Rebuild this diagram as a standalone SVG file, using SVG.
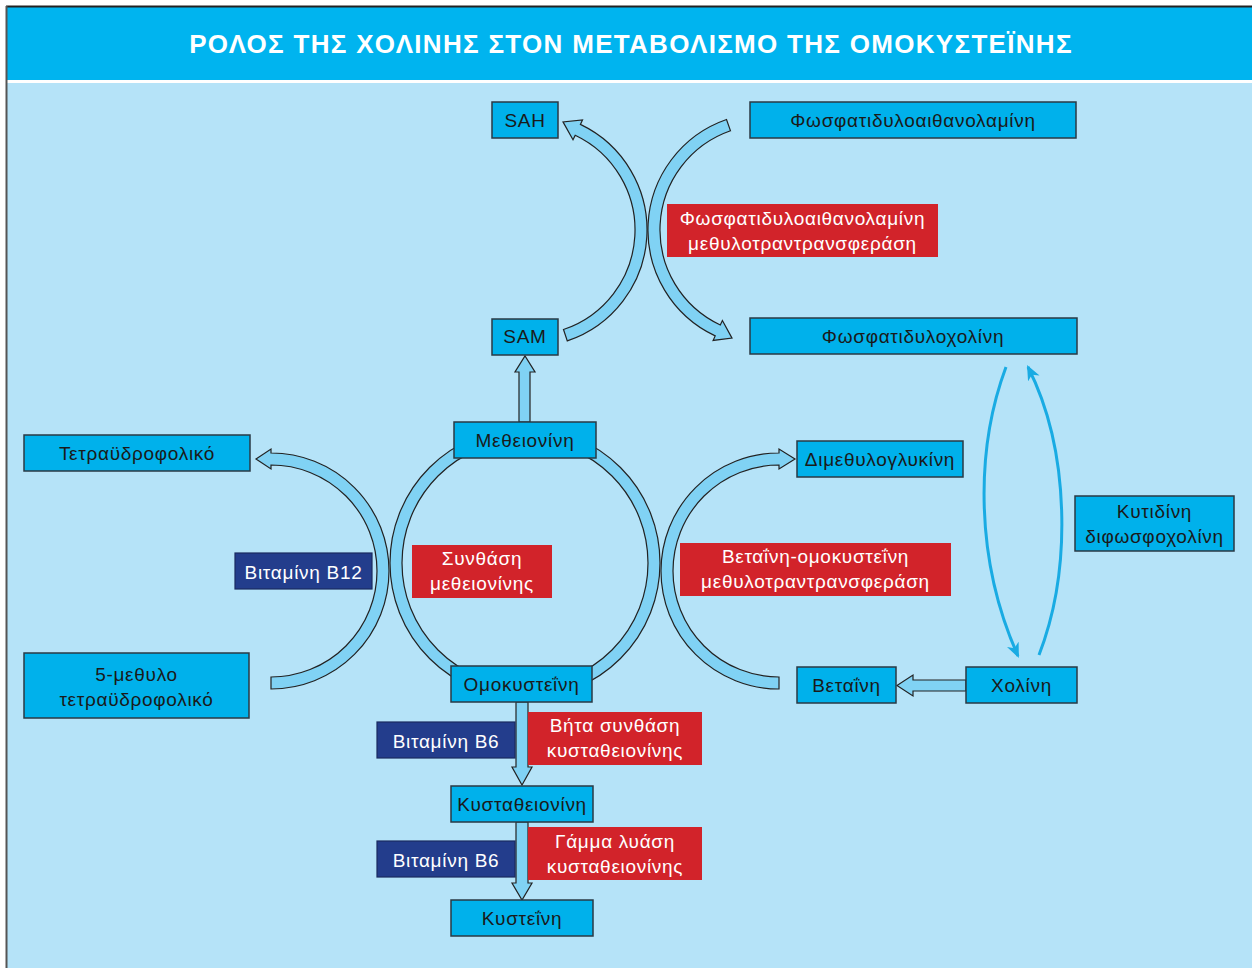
<svg xmlns="http://www.w3.org/2000/svg" width="1252" height="968" viewBox="0 0 1252 968">
  <defs>
    <style>
      .node rect { fill: #00b1eb; stroke: #2a3a44; stroke-width: 1.5; }
      .node text, .vit text, .enz text { font-family: "Liberation Sans", Arial, sans-serif; font-size: 19px; letter-spacing: 0.7px; text-anchor: middle; }
      .node text { fill: #1a1a1a; }
      .vit rect { fill: #233d8c; stroke: #1a2a60; stroke-width: 1.2; }
      .vit text { fill: #ffffff; }
      .enz rect { fill: #d2232a; }
      .enz text { fill: #ffffff; }
      .band { fill: #80d2f4; stroke: #222222; stroke-width: 1.2; stroke-linejoin: miter; }
      .thin { fill: none; stroke: #19abe3; stroke-width: 3; }
    </style>
    <marker id="tip" viewBox="0 0 14 12" refX="12" refY="6" markerWidth="15" markerHeight="13" markerUnits="userSpaceOnUse" orient="auto">
      <path d="M0,0 L14,6 L0,12 L4,6 Z" fill="#19abe3"/>
    </marker>
  </defs>

  <!-- frame and backgrounds -->
  <rect x="0" y="0" width="1252" height="968" fill="#ffffff"/>
  <rect x="7" y="83" width="1245" height="885" fill="#b5e3f8"/>
  <rect x="7" y="7" width="1245" height="73" fill="#00b4ef"/>
  <line x1="6" y1="6.5" x2="1252" y2="6.5" stroke="#222222" stroke-width="2"/>
  <line x1="6.5" y1="6" x2="6.5" y2="968" stroke="#555555" stroke-width="2"/>
  <text x="631" y="53" font-family="Liberation Sans, Arial, sans-serif" font-size="26" font-weight="bold" letter-spacing="1.3" fill="#ffffff" text-anchor="middle">ΡΟΛΟΣ ΤΗΣ ΧΟΛΙΝΗΣ ΣΤΟΝ ΜΕΤΑΒΟΛΙΣΜΟ ΤΗΣ ΟΜΟΚΥΣΤΕΪΝΗΣ</text>

  <!-- connectors -->
  <g id="connectors">
    <!-- methionine cycle ring -->
    <path class="band" fill-rule="evenodd" d="M390,563 A135,135 0 1 1 660,563 A135,135 0 1 1 390,563 Z M402,563 A123,123 0 1 0 648,563 A123,123 0 1 0 402,563 Z"/>
    <!-- folate arc -->
    <path class="band" d="M271,689 A118,118 0 0 0 271,453 L271,449 L256,459 L271,469 L271,465 A106,106 0 0 1 271,677 Z"/>
    <!-- betaine-homocysteine arc -->
    <path class="band" d="M779,689 A118,118 0 0 1 779,453 L779,449 L795,459 L779,469 L779,465 A106,106 0 0 0 779,677 Z"/>
    <!-- SAM to SAH -->
    <path class="band" d="M563.5,329.5 L567.3,340.9 A117,117 0 0 0 580.4,124.4 L582.5,119.9 L563,121.9 L573,139.7 L575.2,135.2 A105,105 0 0 1 563.5,329.5 Z"/>
    <!-- phosphatidylethanolamine to phosphatidylcholine -->
    <path class="band" d="M726.5,119.5 A117,117 0 0 0 715.2,335.9 L713.1,340.4 L732,338.1 L722.4,320.5 L720.3,325 A105,105 0 0 1 730.5,130.8 Z"/>
    <!-- methionine to SAM -->
    <path class="band" d="M519,422 L519,372 L515,372 L525,356 L535,372 L530,372 L530,422 Z"/>
    <!-- homocysteine to cystathionine -->
    <path class="band" d="M516,702 L516,767 L512,767 L522,785 L532,767 L528,767 L528,702 Z"/>
    <!-- cystathionine to cysteine -->
    <path class="band" d="M516,822 L516,883 L512,883 L522,900 L532,883 L528,883 L528,822 Z"/>
    <!-- choline to betaine -->
    <path class="band" d="M966,680 L913,680 L913,675 L897,685.5 L913,696 L913,691 L966,691 Z"/>
    <!-- phosphatidylcholine / choline exchange -->
    <path class="thin" marker-end="url(#tip)" d="M1006,367 C975,450 975,560 1018,656"/>
    <path class="thin" marker-end="url(#tip)" d="M1039,655 C1072,570 1070,450 1028,367"/>
  </g>

  <!-- metabolites -->
  <g id="sah" class="node"><rect x="492" y="102" width="66" height="36"/><text x="525" y="126.5">SAH</text></g>
  <g id="pe" class="node"><rect x="750" y="102" width="326" height="36"/><text x="913" y="127">Φωσφατιδυλοαιθανολαμίνη</text></g>
  <g id="sam" class="node"><rect x="492" y="319" width="66" height="36"/><text x="525" y="343">SAM</text></g>
  <g id="pc" class="node"><rect x="750" y="318" width="327" height="36"/><text x="913" y="343">Φωσφατιδυλοχολίνη</text></g>
  <g id="met" class="node"><rect x="454" y="422" width="142" height="36"/><text x="525" y="447">Μεθειονίνη</text></g>
  <g id="thf" class="node"><rect x="24" y="435" width="226" height="36"/><text x="137" y="460">Τετραϋδροφολικό</text></g>
  <g id="dmg" class="node"><rect x="797" y="441" width="166" height="36"/><text x="880" y="466">Διμεθυλογλυκίνη</text></g>
  <g id="mthf" class="node"><rect x="24" y="653" width="225" height="65"/><text x="136.5" y="681">5-μεθυλο</text><text x="136.5" y="706">τετραϋδροφολικό</text></g>
  <g id="hcy" class="node"><rect x="451" y="666" width="141" height="36"/><text x="521.5" y="691">Ομοκυστεΐνη</text></g>
  <g id="bet" class="node"><rect x="797" y="667" width="99" height="36"/><text x="846.5" y="692">Βεταΐνη</text></g>
  <g id="cho" class="node"><rect x="966" y="667" width="111" height="36"/><text x="1021.5" y="692">Χολίνη</text></g>
  <g id="cdp" class="node"><rect x="1075" y="496" width="159" height="55"/><text x="1154.5" y="518">Κυτιδίνη</text><text x="1154.5" y="543">διφωσφοχολίνη</text></g>
  <g id="cth" class="node"><rect x="451" y="786" width="142" height="36"/><text x="522" y="811">Κυσταθειονίνη</text></g>
  <g id="cys" class="node"><rect x="451" y="900" width="142" height="36"/><text x="522" y="925">Κυστεΐνη</text></g>

  <!-- cofactors -->
  <g id="b12" class="vit"><rect x="235" y="553" width="137" height="36"/><text x="303.5" y="579">Βιταμίνη B12</text></g>
  <g id="b6a" class="vit"><rect x="377" y="722" width="138" height="36"/><text x="446" y="748">Βιταμίνη B6</text></g>
  <g id="b6b" class="vit"><rect x="377" y="841" width="138" height="36"/><text x="446" y="867">Βιταμίνη B6</text></g>

  <!-- enzymes -->
  <g id="pemt" class="enz"><rect x="667" y="204" width="271" height="53"/><text x="802.5" y="225">Φωσφατιδυλοαιθανολαμίνη</text><text x="802.5" y="250">μεθυλοτραντρανσφεράση</text></g>
  <g id="ms" class="enz"><rect x="412" y="545" width="140" height="53"/><text x="482" y="565">Συνθάση</text><text x="482" y="590">μεθειονίνης</text></g>
  <g id="bhmt" class="enz"><rect x="680" y="543" width="271" height="53"/><text x="815.5" y="563">Βεταΐνη-ομοκυστεΐνη</text><text x="815.5" y="588">μεθυλοτραντρανσφεράση</text></g>
  <g id="cbs" class="enz"><rect x="528" y="712" width="174" height="53"/><text x="615" y="732">Βήτα συνθάση</text><text x="615" y="757">κυσταθειονίνης</text></g>
  <g id="cgl" class="enz"><rect x="528" y="827" width="174" height="53"/><text x="615" y="848">Γάμμα λυάση</text><text x="615" y="873">κυσταθειονίνης</text></g>
</svg>
